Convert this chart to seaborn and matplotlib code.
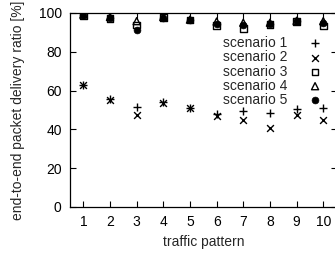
import matplotlib
matplotlib.use("Agg")
import matplotlib.pyplot as plt
import seaborn as sns
import pandas as pd

patterns = [1, 2, 3, 4, 5, 6, 7, 8, 9, 10]
scenario1 = [63.0, 55.5, 51.5, 54.0, 51.0, 48.0, 49.3, 48.5, 50.6, 51.0]
scenario2 = [62.8, 55.0, 47.2, 53.8, 50.8, 47.0, 44.6, 40.7, 47.5, 45.0]
scenario3 = [98.8, 97.0, 93.8, 97.5, 96.4, 93.4, 92.2, 94.0, 95.8, 93.3]
scenario4 = [99.2, 98.0, 95.8, 98.0, 96.6, 95.6, 95.0, 95.0, 96.0, 95.8]
scenario5 = [99.0, 97.6, 91.4, 97.4, 96.5, 94.5, 93.8, 94.3, 95.8, 94.6]
labels = ["scenario 1", "scenario 2", "scenario 3", "scenario 4", "scenario 5"]
xticks = [1, 2, 3, 4, 5, 6, 7, 8, 9, 10]
yticks = [0, 20, 40, 60, 80, 100]

sns.set_theme(style="ticks")
plt.rcParams["font.family"] = ["Liberation Sans", "DejaVu Sans"]
plt.rcParams["font.size"] = 10

fig = plt.figure(figsize=(3.35, 2.54), dpi=100)
ax = fig.add_axes([70 / 335, 47 / 254, 266.6 / 335, 194 / 254])

series = [scenario1, scenario2, scenario3, scenario4, scenario5]
styles = [
    dict(marker="+", s=34, color="black", linewidth=1.0),
    dict(marker="x", s=24, color="black", linewidth=1.0),
    dict(marker="s", s=24, facecolors="none", edgecolor="black", linewidth=1.0),
    dict(marker="^", s=26, facecolors="none", edgecolor="black", linewidth=1.0),
    dict(marker="o", s=24, color="black", edgecolor="black", linewidth=0.5),
]
for vals, lab, st in zip(series, labels, styles):
    df = pd.DataFrame({"pattern": patterns, "ratio": vals})
    sns.scatterplot(data=df, x="pattern", y="ratio", ax=ax, label=lab, zorder=3, **st)

ax.set_xlim(0.5, 10.5)
ax.set_ylim(0, 100)
ax.set_xticks(xticks)
ax.set_yticks(yticks)
ax.set_xlabel("traffic pattern", fontsize=10, labelpad=4)
ax.set_ylabel("end-to-end packet delivery ratio [%]", fontsize=10, labelpad=10)
ax.tick_params(direction="in", length=4.3, width=0.8, top=True, right=True,
               labelsize=10, color="black", labelcolor="black")
ax.tick_params(axis="y", pad=6)
ax.tick_params(axis="x", pad=6)
for sp in ax.spines.values():
    sp.set_visible(True)
    sp.set_color("black")
    sp.set_linewidth(0.9)

leg = ax.legend(loc="upper right", bbox_to_anchor=(322 / 335, 1 - 36 / 254),
                bbox_transform=fig.transFigure, markerfirst=False, frameon=False,
                fontsize=10, handlelength=1.0, handletextpad=1.5,
                labelspacing=0.02, borderpad=0, borderaxespad=0)

fig.savefig("out.png", dpi=100)
